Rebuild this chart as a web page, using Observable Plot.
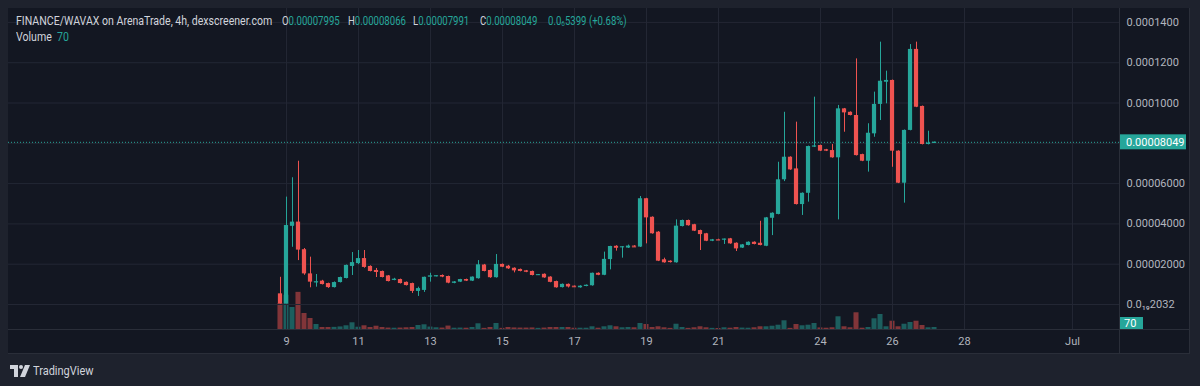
<!DOCTYPE html>
<html><head><meta charset="utf-8">
<script src="https://cdn.jsdelivr.net/npm/d3@7"></script>
<script src="https://cdn.jsdelivr.net/npm/@observablehq/plot@0.6"></script>
<style>
html,body{margin:0;padding:0;background:#1e222d;width:1200px;height:386px;overflow:hidden;font-family:Roboto,"Open Sans",sans-serif;}
#panel{position:absolute;left:8px;top:8px;width:1181px;height:345px;background:#131722;border:1px solid #2a2e39;border-left:none;border-top:none;}
#paxis{position:absolute;left:1119px;top:8px;width:0;height:346px;border-left:1px solid #2a2e39;}
#taxis{position:absolute;left:8px;top:329px;width:1182px;height:0;border-top:1px solid #2a2e39;}
.layer{position:absolute;left:8px;top:8px;}
.hd{position:absolute;font-size:12px;color:#d1d4dc;white-space:nowrap;transform:scaleX(0.88);transform-origin:left center;line-height:14px;}
.hn{transform:scaleX(0.8);}
.hd sub{font-size:8px;vertical-align:-1px;line-height:0;}
.v{color:#26a69a;}
#logo{position:absolute;left:10px;top:363px;display:flex;align-items:center;gap:3px;color:#d1d4dc;font-size:12.5px;}
#logo span{transform:scaleX(0.88);transform-origin:left center;display:inline-block;}
</style></head>
<body>
<div id="panel"></div>
<div id="vol" class="layer"></div>
<div id="price" class="layer"></div>
<div id="paxis"></div>
<div id="taxis"></div>
<div class="hd" style="left:16px;top:14px">FINANCE/WAVAX on ArenaTrade, 4h, dexscreener.com</div>
<div class="hd hn" style="left:282px;top:14px">O<span class="v">0.00007995</span></div>
<div class="hd hn" style="left:348px;top:14px">H<span class="v">0.00008066</span></div>
<div class="hd hn" style="left:413px;top:14px">L<span class="v">0.00007991</span></div>
<div class="hd hn" style="left:480px;top:14px">C<span class="v">0.00008049</span></div>
<div class="hd hn v" style="left:548px;top:14px">0.0<sub>6</sub>5399 (+0.68%)</div>
<div class="hd" style="left:16px;top:30px">Volume&nbsp; <span class="v">70</span></div>
<div id="logo"><svg width="20" height="12" viewBox="0 0 20 12"><path d="M0 0h8v12H4V4H0z" fill="#d1d4dc"/><circle cx="11" cy="2" r="2" fill="#d1d4dc"/><path d="M15 0h5l-5 12h-5z" fill="#d1d4dc"/></svg><span>TradingView</span></div>
<script>
const open = [0.53,0.03,3.88,4.09,2.72,1.52,1.09,1.16,1.04,0.84, 1.09,1.29,1.89,2.03,2.28,1.89,1.69,1.64,1.42,1.20, 1.24,1.10,1.04,0.65,0.70,1.38,1.39,1.44,1.39,1.05, 1.11,1.24,1.16,1.28,1.96,1.69,1.33,1.99,1.90,1.80, 1.74,1.67,1.64,1.46,1.50,1.36,1.14,0.84,1.00,0.91, 0.83,0.90,0.93,1.55,1.45,2.23,2.89,2.84,2.80,2.90, 2.85,5.25,4.33,3.59,2.22,2.15,2.07,3.87,4.17,3.96, 3.67,3.51,3.14,3.22,3.22,3.26,3.04,2.80,2.93,3.09, 3.04,2.89,4.28,4.47,6.19,7.31,6.73,4.96,5.52,7.81, 7.89,7.68,7.64,7.28,9.71,9.54,9.38,7.44,7.11,8.47, 9.93,11.03,11.12,7.61,6.02,8.64,12.66,9.83,7.94,7.995].map(v => v * 1e-5);
const high = [1.35,5.33,6.29,7.11,2.78,2.35,1.49,1.20,1.06,1.12, 1.36,1.96,2.58,2.68,2.68,1.92,1.79,1.66,1.44,1.30, 1.26,1.12,1.06,0.86,1.36,1.55,1.43,1.47,1.41,1.14, 1.25,1.26,1.37,2.18,1.99,1.71,2.48,2.01,1.94,1.82, 1.76,1.69,1.66,1.49,1.52,1.38,1.16,1.02,1.02,0.92, 0.93,0.97,1.56,1.57,2.60,2.89,2.92,2.87,2.95,2.92, 5.36,5.27,4.35,3.62,2.30,2.17,4.20,4.19,4.19,3.98, 3.69,3.53,3.23,3.24,3.25,3.28,3.06,2.98,3.11,3.11, 4.13,4.32,4.55,7.06,9.54,7.33,9.05,5.54,7.86,10.29, 7.91,7.70,7.94,9.88,9.73,9.56,12.19,7.46,8.97,10.54, 13.02,11.58,11.14,7.63,8.66,12.90,13.02,9.85,8.60,8.066].map(v => v * 1e-5);
const low = [0.02,0.02,2.84,2.18,1.45,0.83,0.86,0.97,0.80,0.82, 1.07,1.27,1.44,1.98,1.80,1.62,1.34,1.32,1.12,1.18, 1.02,0.92,0.55,0.40,0.60,1.11,1.37,1.33,1.03,1.03, 1.09,1.14,1.14,1.26,1.62,1.30,1.31,1.83,1.74,1.57, 1.62,1.58,1.42,1.44,1.30,1.08,0.81,0.82,0.82,0.86, 0.81,0.88,0.91,1.43,1.43,1.72,2.65,2.30,2.78,2.84, 2.83,3.01,3.49,2.13,2.05,2.06,2.05,3.85,3.89,3.62, 2.68,3.12,3.12,3.19,2.98,2.99,2.63,2.78,2.91,2.96, 2.91,2.87,3.42,4.45,6.10,6.66,4.94,4.42,5.08,7.79, 7.59,7.59,7.26,4.20,8.55,9.36,7.37,7.09,6.57,8.30, 9.13,9.96,6.81,6.00,5.03,8.62,9.77,7.92,7.92,7.991].map(v => v * 1e-5);
const close = [0.03,3.92,4.09,2.70,1.52,1.11,1.12,0.99,0.84,1.09, 1.34,1.94,2.08,2.28,1.84,1.64,1.59,1.34,1.14,1.25, 1.04,0.94,0.65,0.79,1.35,1.41,1.42,1.36,1.06,1.12, 1.24,1.16,1.36,1.97,1.64,1.33,1.99,1.85,1.77,1.67, 1.64,1.60,1.44,1.48,1.32,1.10,0.83,1.00,0.87,0.88, 0.91,0.95,1.55,1.45,2.24,2.88,2.79,2.86,2.90,2.86, 5.25,4.30,3.51,2.15,2.07,2.08,3.89,4.17,3.91,3.64, 3.47,3.14,3.21,3.20,3.24,3.01,2.76,2.96,3.09,2.98, 2.93,4.30,4.53,6.19,7.31,6.68,4.96,5.52,7.84,7.87, 7.61,7.61,7.28,9.71,9.51,9.38,7.39,7.11,8.50,9.93, 11.08,11.12,7.61,6.02,8.64,12.66,9.79,7.94,8.01,8.049].map(v => v * 1e-5);
const volume = [910,1200,770,1300,560,385,175,70,70,75, 90,130,235,80,130,70,115,70,50,45, 50,60,70,140,165,85,60,50,120,45, 50,45,70,200,40,70,210,40,70,55, 50,50,55,40,50,70,70,70,70,45, 45,45,95,45,95,130,95,60,70,60, 210,175,70,95,60,40,185,70,40,60, 95,60,40,35,60,45,70,50,45,60, 95,95,115,150,305,40,175,130,150,210, 55,45,60,445,95,60,585,45,70,375, 525,95,290,95,185,245,290,140,60,70];
const dayLabels = ["9","11","13","15","17","19","21","24","26","28","Jul"];
const dayBars = [1,13,25,37,49,61,73,90,102,114,132];
const priceTicks = [0, 0.00002, 0.00004, 0.00006, 0.00008, 0.0001, 0.00012, 0.00014];
const priceTickLabels = ["0.0₁₉2032","0.00002000","0.00004000","0.00006000","","0.0001000","0.0001200","0.0001400"];
const lastPriceLabel = "0.00008049";
const lastVolumeLabel = "70";

const UP = "#26a69a", DOWN = "#ef5350";
const bars = open.map((o, i) => ({i, o, h: high[i], l: low[i], c: close[i], v: volume[i], up: close[i] >= o}));
const last = bars[bars.length - 1];
const W = 1182, H = 346;
const xDomain = [-45.33, 139.83];
const common = {width: W, height: H, marginLeft: 0, marginRight: 71, marginTop: 0, marginBottom: 25,
  style: {background: "transparent", color: "#b2b5be", fontSize: "11px", fontFamily: "Roboto, sans-serif"}};

const volChart = Plot.plot({
  ...common,
  x: {domain: xDomain, axis: null},
  y: {domain: [0, 11235], axis: null},
  color: {type: "identity"},
  marks: [
    Plot.rect(bars, {x1: d => d.i - 0.42, x2: d => d.i + 0.42, y1: 0, y2: "v",
      fill: d => d.up ? UP : DOWN, fillOpacity: 0.5})
  ]
});
document.getElementById("vol").appendChild(volChart);

const fmtY = d => priceTickLabels[priceTicks.indexOf(d)];
const fmtX = d => dayLabels[dayBars.indexOf(d)];
const priceChart = Plot.plot({
  ...common,
  x: {domain: xDomain, label: null},
  y: {domain: [-1.24e-5, 14.69e-5], label: null},
  color: {type: "identity"},
  marks: [
    Plot.gridY(priceTicks, {stroke: "#232734", strokeOpacity: 1}),
    Plot.gridX(dayBars, {stroke: "#232734", strokeOpacity: 1}),
    Plot.axisY(priceTicks, {anchor: "right", label: null, tickSize: 0, tickPadding: 7, tickFormat: fmtY, fill: "#b2b5be"}),
    Plot.axisX(dayBars, {anchor: "bottom", label: null, tickSize: 0, tickPadding: 8, tickFormat: fmtX, fill: "#b2b5be"}),
    Plot.ruleY([last.c], {stroke: UP, strokeDasharray: "1,2"}),
    Plot.ruleX(bars, {x: "i", y1: "l", y2: "h", stroke: d => d.up ? UP : DOWN, strokeWidth: 1}),
    Plot.rect(bars, {x1: d => d.i - 0.35, x2: d => d.i + 0.35, y1: "o", y2: "c", fill: d => d.up ? UP : DOWN}),
    Plot.ruleY(bars, {filter: d => Math.abs(d.o - d.c) < 0.06e-5, y: "c", x1: d => d.i - 0.35, x2: d => d.i + 0.35, stroke: d => d.up ? UP : DOWN})
  ]
});
document.getElementById("price").appendChild(priceChart);

const ys = priceChart.scale("y"), vs = volChart.scale("y");
const svg = d3.select(priceChart);
const plotRight = W - 71;
const py = ys.apply(last.c);
const g1 = svg.append("g").attr("text-anchor", "start");
g1.append("rect").attr("x", plotRight).attr("y", py - 7.5).attr("width", 67).attr("height", 15).attr("fill", UP);
g1.append("text").attr("x", plotRight + 7).attr("y", py).attr("dy", "0.35em").attr("fill", "#ffffff")
  .attr("font-size", 11).text(lastPriceLabel);
const vy = Math.min(vs.apply(last.v), H - 25 - 6);
const g2 = svg.append("g").attr("text-anchor", "start");
g2.append("rect").attr("x", plotRight).attr("y", vy - 6).attr("width", 24).attr("height", 12).attr("fill", UP);
g2.append("text").attr("x", plotRight + 5).attr("y", vy).attr("dy", "0.35em").attr("fill", "#ffffff")
  .attr("font-size", 11).text(lastVolumeLabel);
</script>
</body></html>
